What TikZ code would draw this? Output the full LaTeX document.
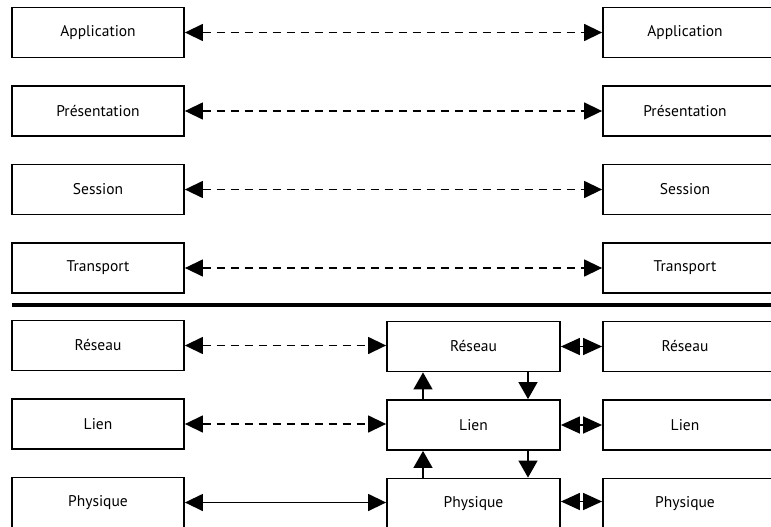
\documentclass[tikz,border=0pt]{standalone}
\usepackage{fontspec}
\setmainfont{PT Sans}
\usetikzlibrary{arrows.meta}
\begin{document}
\begin{tikzpicture}[x=1pt,y=-1pt,
  layer/.style={draw=black,line width=1.8pt,minimum width=172pt,minimum height=50pt,inner sep=0pt,font=\fontsize{15.5}{17}\selectfont,fill=white},
  peer/.style={line width=1.4pt,dash pattern=on 8pt off 6pt,{Triangle[length=18pt,width=17pt]}-{Triangle[length=18pt,width=17pt]}},
  solidpeer/.style={line width=1.4pt,{Triangle[length=18pt,width=17pt]}-{Triangle[length=18pt,width=17pt]}},
  hop/.style={line width=1.4pt,{Triangle[length=19pt,width=17pt]}-{Triangle[length=19pt,width=17pt]}},
  updown/.style={line width=1.4pt,-{Triangle[length=17pt,width=19pt]}}]
\useasboundingbox (0,0) rectangle (771,527);
\clip (0,0) rectangle (771,527);
% left column
\node[layer] (lA) at (98,32.5) {Application};
\node[layer] (lP) at (98,111) {Présentation};
\node[layer] (lS) at (98,189.5) {Session};
\node[layer] (lT) at (98,268) {Transport};
\node[layer] (lR) at (98,345.5) {Réseau};
\node[layer] (lL) at (98,424) {Lien};
\node[layer] (lY) at (98,502.5) {Physique};
% middle column
\node[layer,minimum width=173pt] (mR) at (473.5,346.5) {Réseau};
\node[layer,minimum width=173pt] (mL) at (473.5,425) {Lien};
\node[layer,minimum width=173pt] (mY) at (473.5,503.5) {Physique};
% right column
\node[layer] (rA) at (689,32.5) {\hspace*{-8pt}Application};
\node[layer] (rP) at (689,111) {\hspace*{-8pt}Présentation};
\node[layer] (rS) at (689,189.5) {\hspace*{-8pt}Session};
\node[layer] (rT) at (689,268) {\hspace*{-8pt}Transport};
\node[layer] (rR) at (689,346.5) {\hspace*{-8pt}Réseau};
\node[layer] (rL) at (689,425) {\hspace*{-8pt}Lien};
\node[layer] (rY) at (689,503.5) {\hspace*{-8pt}Physique};
% separator
\coordinate (sepL) at (12,305);
\coordinate (sepR) at (771,305);
\draw[line width=4.5pt] (sepL) -- (sepR);
% peer arrows
\draw[peer] (lA.east) -- (rA.west);
\draw[peer] (lP.east) -- (rP.west);
\draw[peer] (lS.east) -- (rS.west);
\draw[peer] (lT.east) -- (rT.west);
\draw[peer] (lR.east) -- (lR.east -| mR.west);
\draw[peer] (lL.east) -- (lL.east -| mL.west);
\draw[solidpeer] (lY.east) -- (lY.east -| mY.west);
% hops middle-right
\draw[hop] (mR.east) -- (rR.west);
\draw[hop] (mL.east) -- (rL.west);
\draw[hop] (mY.east |- mY.center) ++(0,-2) coordinate (hy1) -- (rY.west |- hy1);
% vertical arrows
\draw[updown] (mL.north -| 423,0) -- (mR.south -| 423,0);
\draw[updown] (mR.south -| 528,0) -- (mL.north -| 528,0);
\draw[updown] (mY.north -| 423,0) -- (mL.south -| 423,0);
\draw[updown] (mL.south -| 528,0) -- (mY.north -| 528,0);
\end{tikzpicture}
\end{document}
